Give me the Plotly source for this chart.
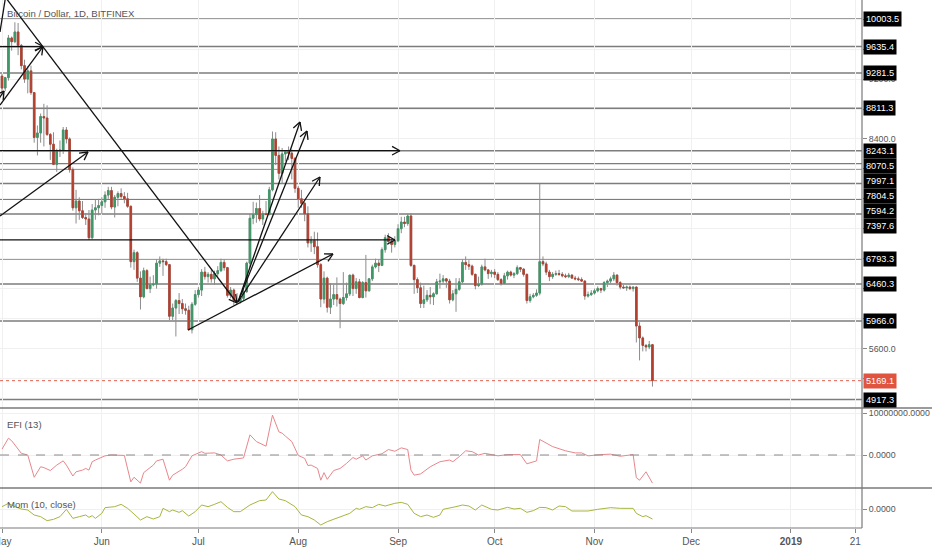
import math
import pandas as pd
import plotly.graph_objects as go

# ---------------- data ----------------
candle_dates = pd.date_range("2018-05-01", "2018-11-19", freq="D")

open_ = [
    9240, 9080, 9220, 9750, 9700, 9830, 9650, 9380, 9200, 9310, 9020, 8420, 8480, 8700, 8680, 8460, 8330, 8060, 8240, 8250, 8520, 8400, 7990, 7480, 7570, 7440, 7350, 7330, 7080, 7450, 7480,
    7510, 7560, 7650, 7710, 7490, 7620, 7670, 7630, 7600, 7500, 6760, 6880, 6540, 6290, 6640, 6400, 6450, 6460, 6740, 6770, 6760, 6720, 6030, 6140, 6240, 6200, 6130, 6110, 5850, 6190,
    6320, 6380, 6620, 6560, 6590, 6530, 6600, 6640, 6750, 6680, 6310, 6380, 6240, 6230, 6270, 6360, 6740, 7340, 7390, 7470, 7330, 7400, 7390, 7720, 8400, 8180, 7940, 8200, 8230, 8210, 8140,
    7740, 7600, 7540, 7400, 7010, 7040, 6960, 6720, 6260, 6540, 6150, 6260, 6320, 6260, 6200, 6280, 6330, 6580, 6400, 6490, 6280, 6480, 6370, 6530, 6690, 6740, 6710, 6920, 7080, 7030, 6990,
    7040, 7200, 7290, 7270, 7370, 6710, 6520, 6410, 6200, 6250, 6310, 6290, 6330, 6490, 6500, 6530, 6500, 6250, 6330, 6390, 6490, 6750, 6720, 6700, 6590, 6440, 6460, 6690, 6650, 6600,
    6620, 6590, 6520, 6470, 6570, 6620, 6580, 6600, 6680, 6660, 6590, 6240, 6290, 6310, 6340, 6760, 6730, 6620, 6560, 6590, 6600, 6590, 6570, 6560, 6580, 6540, 6530, 6520, 6500, 6300, 6320,
    6340, 6370, 6400, 6380, 6480, 6500, 6530, 6580, 6480, 6420, 6410, 6420, 6400, 6420, 5900, 5740, 5640, 5620, 5650,
]
high = [
    9270, 9230, 9790, 9770, 9960, 9950, 9670, 9460, 9370, 9380, 9020, 8580, 8740, 8870, 8850, 8480, 8490, 8270, 8380, 8560, 8560, 8420, 8020, 7720, 7620, 7570, 7410, 7450, 7530, 7590, 7600,
    7620, 7700, 7760, 7760, 7650, 7700, 7740, 7690, 7680, 7510, 6920, 6900, 6630, 6680, 6660, 6560, 6580, 6790, 6830, 6800, 6800, 6730, 6200, 6260, 6340, 6260, 6200, 6170, 6220, 6380,
    6420, 6660, 6690, 6620, 6650, 6640, 6700, 6800, 6790, 6690, 6420, 6400, 6340, 6330, 6400, 6760, 7400, 7560, 7550, 7650, 7440, 7570, 7760, 8500, 8490, 8300, 8280, 8250, 8300, 8260, 8160,
    7770, 7720, 7560, 7500, 7100, 7160, 7150, 6740, 6630, 6560, 6470, 6450, 6550, 6280, 6620, 6480, 6580, 6600, 6540, 6530, 6500, 6850, 6540, 6720, 6800, 6790, 6950, 7120, 7140, 7060, 7100,
    7260, 7360, 7360, 7400, 7410, 6720, 6550, 6480, 6440, 6380, 6420, 6350, 6530, 6600, 6580, 6540, 6530, 6380, 6540, 6540, 6790, 6830, 6780, 6720, 6600, 6560, 6720, 6800, 6660, 6650,
    6660, 6620, 6540, 6610, 6640, 6640, 6620, 6710, 6690, 6670, 6600, 6330, 6340, 6390, 7800, 6830, 6760, 6650, 6620, 6640, 6650, 6620, 6600, 6610, 6590, 6570, 6560, 6550, 6510, 6360, 6380,
    6400, 6430, 6410, 6500, 6520, 6560, 6620, 6590, 6500, 6450, 6440, 6440, 6430, 6430, 5950, 5760, 5660, 5700, 5660,
]
low = [
    8980, 9040, 9180, 9580, 9680, 9520, 9330, 9150, 9010, 8990, 8350, 8180, 8350, 8300, 8440, 8120, 8050, 7960, 8160, 8200, 8340, 7950, 7440, 7270, 7320, 7330, 7250, 7050, 7060, 7320, 7380,
    7400, 7480, 7600, 7460, 7350, 7500, 7600, 7540, 7480, 6680, 6650, 6490, 6120, 6270, 6390, 6340, 6430, 6400, 6690, 6570, 6700, 5980, 5980, 5760, 6060, 6060, 6050, 5840, 5800, 6170,
    6280, 6300, 6520, 6480, 6480, 6450, 6560, 6620, 6640, 6280, 6270, 6180, 6200, 6200, 6240, 6340, 6680, 7260, 7280, 7300, 7250, 7380, 7380, 7700, 8050, 7860, 7800, 8100, 8120, 7860, 7680,
    7480, 7480, 7300, 6950, 6890, 6860, 6680, 6150, 6200, 6080, 6060, 6180, 6160, 5870, 6180, 6240, 6300, 6300, 6330, 6270, 6270, 6280, 6360, 6500, 6670, 6620, 6700, 6880, 6990, 6880, 6950,
    7020, 7140, 7220, 7240, 6690, 6330, 6340, 6140, 6140, 6220, 6190, 6180, 6320, 6400, 6470, 6410, 6200, 6230, 6090, 6370, 6470, 6650, 6650, 6570, 6390, 6420, 6440, 6630, 6530, 6550,
    6540, 6500, 6440, 6460, 6520, 6560, 6540, 6580, 6620, 6560, 6200, 6210, 6270, 6290, 6310, 6700, 6580, 6500, 6530, 6570, 6570, 6550, 6540, 6540, 6530, 6510, 6500, 6490, 6250, 6280, 6300,
    6320, 6350, 6340, 6360, 6420, 6470, 6500, 6440, 6390, 6400, 6370, 6380, 6360, 5680, 5440, 5560, 5560, 5590, 5090,
]
close = [
    9080, 9220, 9750, 9700, 9830, 9650, 9380, 9200, 9310, 9020, 8420, 8480, 8700, 8680, 8460, 8330, 8060, 8240, 8250, 8520, 8400, 7990, 7480, 7570, 7440, 7350, 7330, 7080, 7450, 7480, 7510,
    7560, 7650, 7710, 7490, 7620, 7670, 7630, 7600, 7500, 6760, 6880, 6540, 6290, 6640, 6400, 6450, 6460, 6740, 6770, 6760, 6720, 6030, 6140, 6240, 6200, 6130, 6110, 5850, 6190, 6320,
    6380, 6620, 6560, 6590, 6530, 6600, 6640, 6750, 6680, 6310, 6380, 6240, 6230, 6270, 6360, 6740, 7340, 7390, 7470, 7330, 7400, 7390, 7720, 8400, 8180, 7940, 8200, 8230, 8210, 8140, 7740,
    7600, 7540, 7400, 7010, 7040, 6960, 6720, 6260, 6540, 6150, 6260, 6320, 6260, 6200, 6280, 6330, 6580, 6400, 6490, 6280, 6480, 6370, 6530, 6690, 6740, 6710, 6920, 7080, 7030, 6990, 7040,
    7200, 7290, 7270, 7370, 6710, 6520, 6410, 6200, 6250, 6310, 6290, 6330, 6490, 6500, 6530, 6500, 6250, 6330, 6390, 6490, 6750, 6720, 6700, 6590, 6440, 6460, 6690, 6650, 6600, 6620,
    6590, 6520, 6470, 6570, 6620, 6580, 6600, 6680, 6660, 6590, 6240, 6290, 6310, 6340, 6760, 6730, 6620, 6560, 6590, 6600, 6590, 6570, 6560, 6580, 6540, 6530, 6520, 6500, 6300, 6320, 6340,
    6370, 6400, 6380, 6480, 6500, 6530, 6580, 6480, 6420, 6410, 6420, 6400, 6420, 5900, 5740, 5640, 5620, 5650, 5169.1,
]

level_prices = [10003.5, 9635.4, 9281.5, 8811.3, 8243.1, 8070.5, 7997.1, 7804.5,
                7594.2, 7397.6, 6793.3, 6460.3, 5966.0, 4917.3]
last_price = 5169.1
price_ticks = [5200, 5600, 6000, 6400, 6800, 7200, 7600, 8000, 8400, 8800, 9200, 9600, 10000]
price_tick_shown = [5600, 7200, 8400, 9200]   # the others are hidden behind level labels

efi_dates = [
    "2018-05-01", "2018-05-03", "2018-05-04", "2018-05-05", "2018-05-07", "2018-05-09", "2018-05-11", "2018-05-13",
    "2018-05-14", "2018-05-16", "2018-05-18", "2018-05-20", "2018-05-21", "2018-05-23", "2018-05-24", "2018-05-26",
    "2018-05-27", "2018-05-28", "2018-05-29", "2018-05-30", "2018-06-02", "2018-06-04", "2018-06-08", "2018-06-10",
    "2018-06-11", "2018-06-13", "2018-06-14", "2018-06-15", "2018-06-17", "2018-06-18", "2018-06-20", "2018-06-22",
    "2018-06-23", "2018-06-26", "2018-06-27", "2018-06-29", "2018-07-02", "2018-07-03", "2018-07-06", "2018-07-08",
    "2018-07-10", "2018-07-12", "2018-07-15", "2018-07-17", "2018-07-19", "2018-07-22", "2018-07-24", "2018-07-26",
    "2018-07-27", "2018-07-28", "2018-07-30", "2018-08-01", "2018-08-03", "2018-08-04", "2018-08-05", "2018-08-07",
    "2018-08-08", "2018-08-09", "2018-08-10", "2018-08-12", "2018-08-14", "2018-08-16", "2018-08-18", "2018-08-19",
    "2018-08-21", "2018-08-22", "2018-08-24", "2018-08-27", "2018-08-29", "2018-08-31", "2018-09-02", "2018-09-04",
    "2018-09-05", "2018-09-06", "2018-09-08", "2018-09-11", "2018-09-14", "2018-09-17", "2018-09-18", "2018-09-20",
    "2018-09-22", "2018-09-24", "2018-09-26", "2018-09-28", "2018-10-01", "2018-10-02", "2018-10-05", "2018-10-09",
    "2018-10-11", "2018-10-14", "2018-10-15", "2018-10-19", "2018-10-23", "2018-10-26", "2018-10-28", "2018-10-30",
    "2018-11-03", "2018-11-06", "2018-11-09", "2018-11-13", "2018-11-14", "2018-11-15", "2018-11-17", "2018-11-19",
]
efi_values = [
    1.4e6, 4.0e6, 3.4e6, 2.4e6, 0.4e6, 0.0, -5.3e6, -2.8e6,
    -3.0e6, -3.7e6, -2.4e6, -1.4e6, -2.4e6, -5.0e6, -4.0e6, -3.6e6,
    -3.2e6, -3.6e6, -1.6e6, -1.2e6, -0.2e6, 0.0, -0.1e6, -6.4e6,
    -5.3e6, -6.7e6, -4.2e6, -3.6e6, -2.4e6, -1.4e6, -1.0e6, -6.0e6,
    -4.8e6, -3.4e6, -2.8e6, -0.2e6, 0.8e6, 0.4e6, 0.5e6, 0.0,
    -1.4e6, -1.0e6, -0.7e6, 4.8e6, 3.2e6, 2.1e6, 9.5e6, 5.5e6,
    5.2e6, 4.5e6, 3.2e6, -0.1e6, -0.8e6, -2.5e6, -2.4e6, -3.2e6,
    -6.0e6, -4.2e6, -5.8e6, -3.7e6, -3.2e6, -2.0e6, -0.6e6, -1.0e6,
    -0.2e6, -1.2e6, -0.2e6, 0.3e6, 1.3e6, 0.9e6, 1.7e6, 1.3e6,
    -3.6e6, -4.8e6, -4.5e6, -2.8e6, -1.6e6, -1.2e6, -1.6e6, -0.4e6,
    1.0e6, 0.8e6, 0.0, 0.4e6, 0.0, -0.2e6, 0.1e6, 0.1e6,
    -2.1e6, -1.4e6, 3.7e6, 2.0e6, 1.0e6, 0.5e6, 0.5e6, -0.2e6,
    0.1e6, 0.2e6, -0.3e6, 0.1e6, -5.4e6, -6.0e6, -4.0e6, -6.7e6,
]

mom_dates = [
    "2018-05-01", "2018-05-03", "2018-05-05", "2018-05-07", "2018-05-09", "2018-05-11", "2018-05-13", "2018-05-15",
    "2018-05-17", "2018-05-19", "2018-05-21", "2018-05-23", "2018-05-25", "2018-05-27", "2018-05-28", "2018-05-29",
    "2018-05-30", "2018-06-01", "2018-06-02", "2018-06-05", "2018-06-07", "2018-06-09", "2018-06-11", "2018-06-13",
    "2018-06-15", "2018-06-17", "2018-06-19", "2018-06-20", "2018-06-22", "2018-06-23", "2018-06-25", "2018-06-26",
    "2018-06-28", "2018-06-30", "2018-07-02", "2018-07-04", "2018-07-06", "2018-07-08", "2018-07-10", "2018-07-12",
    "2018-07-14", "2018-07-17", "2018-07-20", "2018-07-22", "2018-07-24", "2018-07-26", "2018-07-28", "2018-07-31",
    "2018-08-02", "2018-08-04", "2018-08-06", "2018-08-08", "2018-08-10", "2018-08-12", "2018-08-15", "2018-08-17",
    "2018-08-19", "2018-08-20", "2018-08-22", "2018-08-24", "2018-08-26", "2018-08-28", "2018-08-31", "2018-09-02",
    "2018-09-04", "2018-09-06", "2018-09-08", "2018-09-10", "2018-09-12", "2018-09-14", "2018-09-15", "2018-09-17",
    "2018-09-19", "2018-09-21", "2018-09-23", "2018-09-25", "2018-09-27", "2018-09-30", "2018-10-02", "2018-10-05",
    "2018-10-07", "2018-10-09", "2018-10-11", "2018-10-13", "2018-10-15", "2018-10-17", "2018-10-19", "2018-10-21",
    "2018-10-23", "2018-10-25", "2018-10-30", "2018-11-02", "2018-11-06", "2018-11-09", "2018-11-13", "2018-11-14",
    "2018-11-16", "2018-11-17", "2018-11-19",
]
mom_values = [
    280, 680, 280, 0, -120, -720, -920, -1400,
    -1240, -920, -40, -1120, -920, -720, -1000, -800,
    -1120, -520, 160, 280, 560, 80, -600, -1320,
    -920, -1200, -920, 80, -320, -120, -400, -200,
    -840, -320, 480, 280, 560, 880, 200, -320,
    -320, 480, 1000, 1080, 2080, 1200, 1000, 280,
    -720, -920, -1320, -1920, -1520, -1240, -840, -520,
    80, -40, 280, 160, 560, 360, 680, 800,
    560, -520, -920, -720, -1000, -720, -40, 80,
    280, 480, 360, -120, 480, -40, -120, 200,
    0, 80, -400, -200, 200, 160, -120, 360,
    280, -240, -240, -40, 160, 80, 80, -520,
    -920, -800, -1200,
]

x_tick_dates = ["2018-05-01", "2018-06-01", "2018-07-01", "2018-08-01", "2018-09-01",
                "2018-10-01", "2018-11-01", "2018-12-01", "2019-01-01", "2019-01-21"]
x_tick_labels = ["May", "Jun", "Jul", "Aug", "Sep", "Oct", "Nov", "Dec", "<b>2019</b>", "21"]

# user drawings: (start date, start price, end date, end price, has arrow head)
drawings = [
    ("2018-05-01 07:00", 10337.7, "2018-07-12 23:30", 6207.3, True),
    ("2018-04-30 09:00", 8853.9, "2018-05-13 17:30", 9635.4, True),
    ("2018-04-27 00:00", 9635.4, "2018-05-13 17:30", 9635.4, True),
    ("2018-04-27 06:30", 8760.4, "2018-05-01 15:00", 9041.1, True),
    ("2018-04-30 09:00", 9829.7, "2018-05-02 06:00", 10337.7, False),
    ("2018-04-30 09:00", 7370.2, "2018-05-27 17:00", 8225.7, True),
    ("2018-04-27 00:00", 8243.1, "2018-09-01 14:00", 8243.1, True),
    ("2018-04-27 00:00", 7050.0, "2018-08-31 01:00", 7050.0, True),
    ("2018-06-27 18:00", 5846.4, "2018-08-11 19:00", 6862.3, True),
    ("2018-07-13 07:00", 6220.6, "2018-08-01 13:00", 8626.7, True),
    ("2018-07-13 07:00", 6220.6, "2018-08-03 17:00", 8506.4, True),
    ("2018-07-13 07:00", 6220.6, "2018-08-07 18:00", 7891.5, True),
]

# ---------------- layout geometry ----------------
W, H = 932, 550
ML, MR, MT, MB = 0, 70, 0, 22
PW = W - ML - MR          # 862
PH = H - MT - MB          # 528
MAIN_H = 408
EFI_BOTTOM = 488
X0 = pd.Timestamp("2018-04-30 09:05")
X1 = pd.Timestamp("2019-01-23 01:55")
Y_LO, Y_HI = 4803.7, 10257.5
EFI_LO, EFI_HI = -7.857e6, 11.19e6
MOM_LO, MOM_HI = -2280, 2520

main_dom = [1 - MAIN_H / PH, 1]
efi_dom = [1 - EFI_BOTTOM / PH, 1 - MAIN_H / PH]
mom_dom = [0, 1 - EFI_BOTTOM / PH]

FONT = "Liberation Sans"
TXT = "#555555"
GRID = "#f0f0f0"
LEVEL_C = "#7d7d7d"
UP, DOWN, WICK = "#3e9867", "#b5402f", "#8c8c8c"
LBL_SIZE = 9.2
TICK_SIZE = 8.8
TITLE_SIZE = 9.6


def to_px(t, p):
    x = (pd.Timestamp(t) - X0) / (X1 - X0) * PW
    y = (Y_HI - p) / (Y_HI - Y_LO) * MAIN_H
    return x, y


def from_px(x, y):
    t = X0 + (X1 - X0) * (x / PW)
    p = Y_HI - y / MAIN_H * (Y_HI - Y_LO)
    return t.strftime("%Y-%m-%d %H:%M:%S"), p


fig = go.Figure()

# wicks (grey) then bodies (coloured)
fig.add_trace(go.Candlestick(
    x=candle_dates, open=open_, high=high, low=low, close=close,
    increasing=dict(line=dict(color=WICK, width=1), fillcolor=WICK),
    decreasing=dict(line=dict(color=WICK, width=1), fillcolor=WICK),
    whiskerwidth=0, hoverinfo="skip", xaxis="x", yaxis="y"))
body_hi = [max(o, c) for o, c in zip(open_, close)]
body_lo = [min(o, c) for o, c in zip(open_, close)]
fig.add_trace(go.Candlestick(
    x=candle_dates, open=open_, high=body_hi, low=body_lo, close=close,
    increasing=dict(line=dict(color=UP, width=0.8), fillcolor=UP),
    decreasing=dict(line=dict(color=DOWN, width=0.8), fillcolor=DOWN),
    whiskerwidth=0, hoverinfo="skip", xaxis="x", yaxis="y"))

# drawings
dx, dy = [], []
for t0, p0, t1, p1, head in drawings:
    dx += [t0, t1, None]
    dy += [p0, p1, None]
    if head:
        x0p, y0p = to_px(t0, p0)
        x1p, y1p = to_px(t1, p1)
        L = math.hypot(x1p - x0p, y1p - y0p)
        ux, uy = (x0p - x1p) / L, (y0p - y1p) / L
        for ang in (0.5, -0.5):
            ca, sa = math.cos(ang), math.sin(ang)
            hx = x1p + 9 * (ux * ca - uy * sa)
            hy = y1p + 9 * (ux * sa + uy * ca)
            ht, hp = from_px(hx, hy)
            dx += [t1, ht, None]
            dy += [p1, hp, None]
fig.add_trace(go.Scatter(x=dx, y=dy, mode="lines", line=dict(color="#111111", width=1.3),
                         hoverinfo="skip", xaxis="x", yaxis="y"))

# indicators
fig.add_trace(go.Scatter(x=efi_dates, y=efi_values, mode="lines",
                         line=dict(color="#e8878c", width=1), hoverinfo="skip",
                         xaxis="x2", yaxis="y2"))
fig.add_trace(go.Scatter(x=mom_dates, y=mom_values, mode="lines",
                         line=dict(color="#a9b53e", width=1), hoverinfo="skip",
                         xaxis="x3", yaxis="y3"))

shapes = []
for p in level_prices:
    shapes.append(dict(type="line", xref="paper", x0=0, x1=1, yref="y", y0=p, y1=p,
                       line=dict(color=LEVEL_C, width=1.4), layer="below"))
shapes.append(dict(type="line", xref="paper", x0=0, x1=1, yref="y", y0=last_price, y1=last_price,
                   line=dict(color="#e2604f", width=1, dash="dot")))
shapes.append(dict(type="line", xref="paper", x0=0, x1=1, yref="y2", y0=0, y1=0,
                   line=dict(color="#8a8a8a", width=1, dash="dash")))
for yy in (main_dom[0], efi_dom[0]):
    shapes.append(dict(type="line", xref="paper", x0=0, x1=W / PW, yref="paper", y0=yy, y1=yy,
                       line=dict(color="#7a7a7a", width=1.5)))
shapes.append(dict(type="line", xref="paper", x0=1, x1=1, yref="paper", y0=0, y1=1,
                   line=dict(color="#7a7a7a", width=1.2)))
shapes.append(dict(type="line", xref="paper", x0=0, x1=1, yref="paper", y0=0, y1=0,
                   line=dict(color="#7a7a7a", width=1.2)))

# level labels on the price scale (pushed apart so that they do not overlap)
annotations = []
items = sorted([(p, False) for p in level_prices] + [(last_price, True)], key=lambda a: -a[0])
prev = -100
for p, is_last in items:
    ypx = (Y_HI - p) / (Y_HI - Y_LO) * MAIN_H
    ypx = max(ypx, prev + 15)
    prev = ypx
    yv = Y_HI - ypx / MAIN_H * (Y_HI - Y_LO)
    annotations.append(dict(x=1, xref="paper", xanchor="left", xshift=1, y=yv, yref="y",
                            yanchor="middle", text=f"{p:.1f}", showarrow=False,
                            bgcolor="#e0533f" if is_last else "#000000",
                            font=dict(color="white", size=LBL_SIZE, family=FONT), borderpad=2))

annotations += [
    dict(x=0, xref="paper", xanchor="left", xshift=5, y=1 - 14 / PH, yref="paper", yanchor="middle",
         text="Bitcoin / Dollar, 1D, BITFINEX", showarrow=False, font=dict(color=TXT, size=TITLE_SIZE, family=FONT)),
    dict(x=0, xref="paper", xanchor="left", xshift=5, y=1 - 424 / PH, yref="paper", yanchor="middle",
         text="EFI (13)", showarrow=False, font=dict(color=TXT, size=TITLE_SIZE, family=FONT)),
    dict(x=0, xref="paper", xanchor="left", xshift=5, y=1 - 504 / PH, yref="paper", yanchor="middle",
         text="Mom (10, close)", showarrow=False, font=dict(color=TXT, size=TITLE_SIZE, family=FONT)),
]

xrange = [X0.strftime("%Y-%m-%d %H:%M:%S"), X1.strftime("%Y-%m-%d %H:%M:%S")]
xcommon = dict(type="date", range=xrange, showgrid=True, gridcolor=GRID, zeroline=False,
               tickvals=x_tick_dates, ticktext=x_tick_labels, fixedrange=True,
               rangeslider=dict(visible=False), showline=False)
ycommon = dict(side="right", showgrid=True, gridcolor=GRID, zeroline=False, ticks="outside",
               ticklen=4, tickcolor="#888888", tickfont=dict(color=TXT, size=TICK_SIZE, family=FONT),
               showline=False, fixedrange=True)

fig.update_layout(
    width=W, height=H, margin=dict(l=ML, r=MR, t=MT, b=MB, autoexpand=False),
    paper_bgcolor="white", plot_bgcolor="white", showlegend=False,
    font=dict(family=FONT, color=TXT),
    xaxis=dict(**xcommon, anchor="y", showticklabels=False),
    xaxis2=dict(**xcommon, anchor="y2", showticklabels=False),
    xaxis3=dict(**xcommon, anchor="y3", showticklabels=True, ticks="outside", ticklen=4,
                tickcolor="#888888", ticklabeloverflow="allow",
                tickfont=dict(color=TXT, size=10, family=FONT)),
    yaxis=dict(**ycommon, domain=main_dom, anchor="x", range=[Y_LO, Y_HI],
               tickvals=price_ticks,
               ticktext=[f"{v:.1f}" if v in price_tick_shown else "" for v in price_ticks]),
    yaxis2=dict(**ycommon, domain=efi_dom, anchor="x2", range=[EFI_LO, EFI_HI],
                tickvals=[0, 1e7], ticktext=["0.0000", "10000000.0000"]),
    yaxis3=dict(**ycommon, domain=mom_dom, anchor="x3", range=[MOM_LO, MOM_HI],
                tickvals=[0], ticktext=["0.0000"]),
    shapes=shapes, annotations=annotations,
)

fig.write_html("out.html", config={"displayModeBar": False},
               post_script="document.body.style.margin='0px';document.body.style.overflow='hidden';")
